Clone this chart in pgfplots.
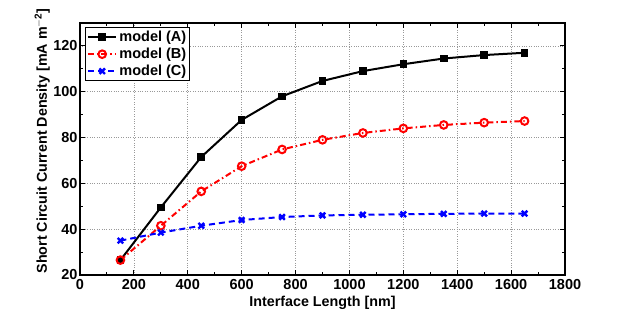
\documentclass[border=0pt]{standalone}
\usepackage{pgfplots}
\pgfplotsset{compat=1.18}
\usepackage{fontspec}
\setmainfont{Liberation Sans}
\begin{document}
\begin{tikzpicture}
\path[use as bounding box] (-80pt,-37pt) rectangle (543pt,275pt);
\begin{axis}[
  scale only axis, width=485pt, height=252pt,
  at={(0pt,0pt)}, anchor=south west,
  xmin=0, xmax=1800, ymin=20, ymax=130,
  xtick={0,200,...,1800}, ytick={20,40,...,120},
  minor x tick num=1, minor y tick num=1,
  tick align=inside, major tick length=5pt, minor tick length=3pt,
  tick style={black, line width=1pt},
  grid=major, major grid style={dotted, gray!80, line width=0.7pt},
  axis line style={line width=1.5pt},
  /pgf/number format/assume math mode=true,
  /pgf/number format/1000 sep={},
  ticklabel style={font=\bfseries\fontsize{14.5}{16}\selectfont},
  xticklabel style={yshift=-1pt},
  yticklabel style={xshift=1pt},
  xlabel={Interface Length [nm]},
  ylabel={Short Circuit Current Density [mA m$^{\mathbf{-2}}$]},
  label style={font=\bfseries\fontsize{14.3}{16}\selectfont},
  xlabel style={at={(axis description cs:0.5,0)}, anchor=north, inner sep=0pt, yshift=-20.5pt},
  ylabel style={at={(axis description cs:-0.062,0.532)}, anchor=south, inner sep=0pt},
  legend style={font=\bfseries\fontsize{14.5}{16}\selectfont, draw=black, line width=1.3pt, inner sep=1.5pt, row sep=1pt, at={(0.01,0.984)}, anchor=north west},
  legend cell align=left,
  legend image code/.code={\draw[mark repeat=2,mark phase=2] plot coordinates {(0cm,0cm) (0.5cm,0cm) (1cm,0cm)};},
]
\addplot[black, line width=2pt, mark=square*, mark size=3.3pt, mark options={solid, fill=black, line width=1pt}] coordinates {
(150,26.5) (300,49.5) (450,71.5) (600,87.7) (750,98) (900,104.7) (1050,109) (1200,112) (1350,114.5) (1500,116) (1650,117)
};
\addlegendentry{model (A)}
\addplot[red, line width=2pt, dash pattern=on 6pt off 3pt on 1.5pt off 3pt, mark=o, mark size=3.8pt, mark options={solid, line width=2pt}] coordinates {
(150,26.5) (300,41.5) (450,56.5) (600,67.5) (750,74.8) (900,79) (1050,82) (1200,84) (1350,85.5) (1500,86.5) (1650,87.2)
};
\addlegendentry{model (B)}
\addplot[blue, line width=2pt, dash pattern=on 6pt off 4pt, mark=x, mark size=3.9pt, mark options={solid, line width=2.4pt}] coordinates {
(150,35) (300,38.5) (450,41.5) (600,44) (750,45.3) (900,46) (1050,46.3) (1200,46.5) (1350,46.7) (1500,46.8) (1650,46.8)
};
\addlegendentry{model (C)}
\end{axis}
\end{tikzpicture}
\end{document}
